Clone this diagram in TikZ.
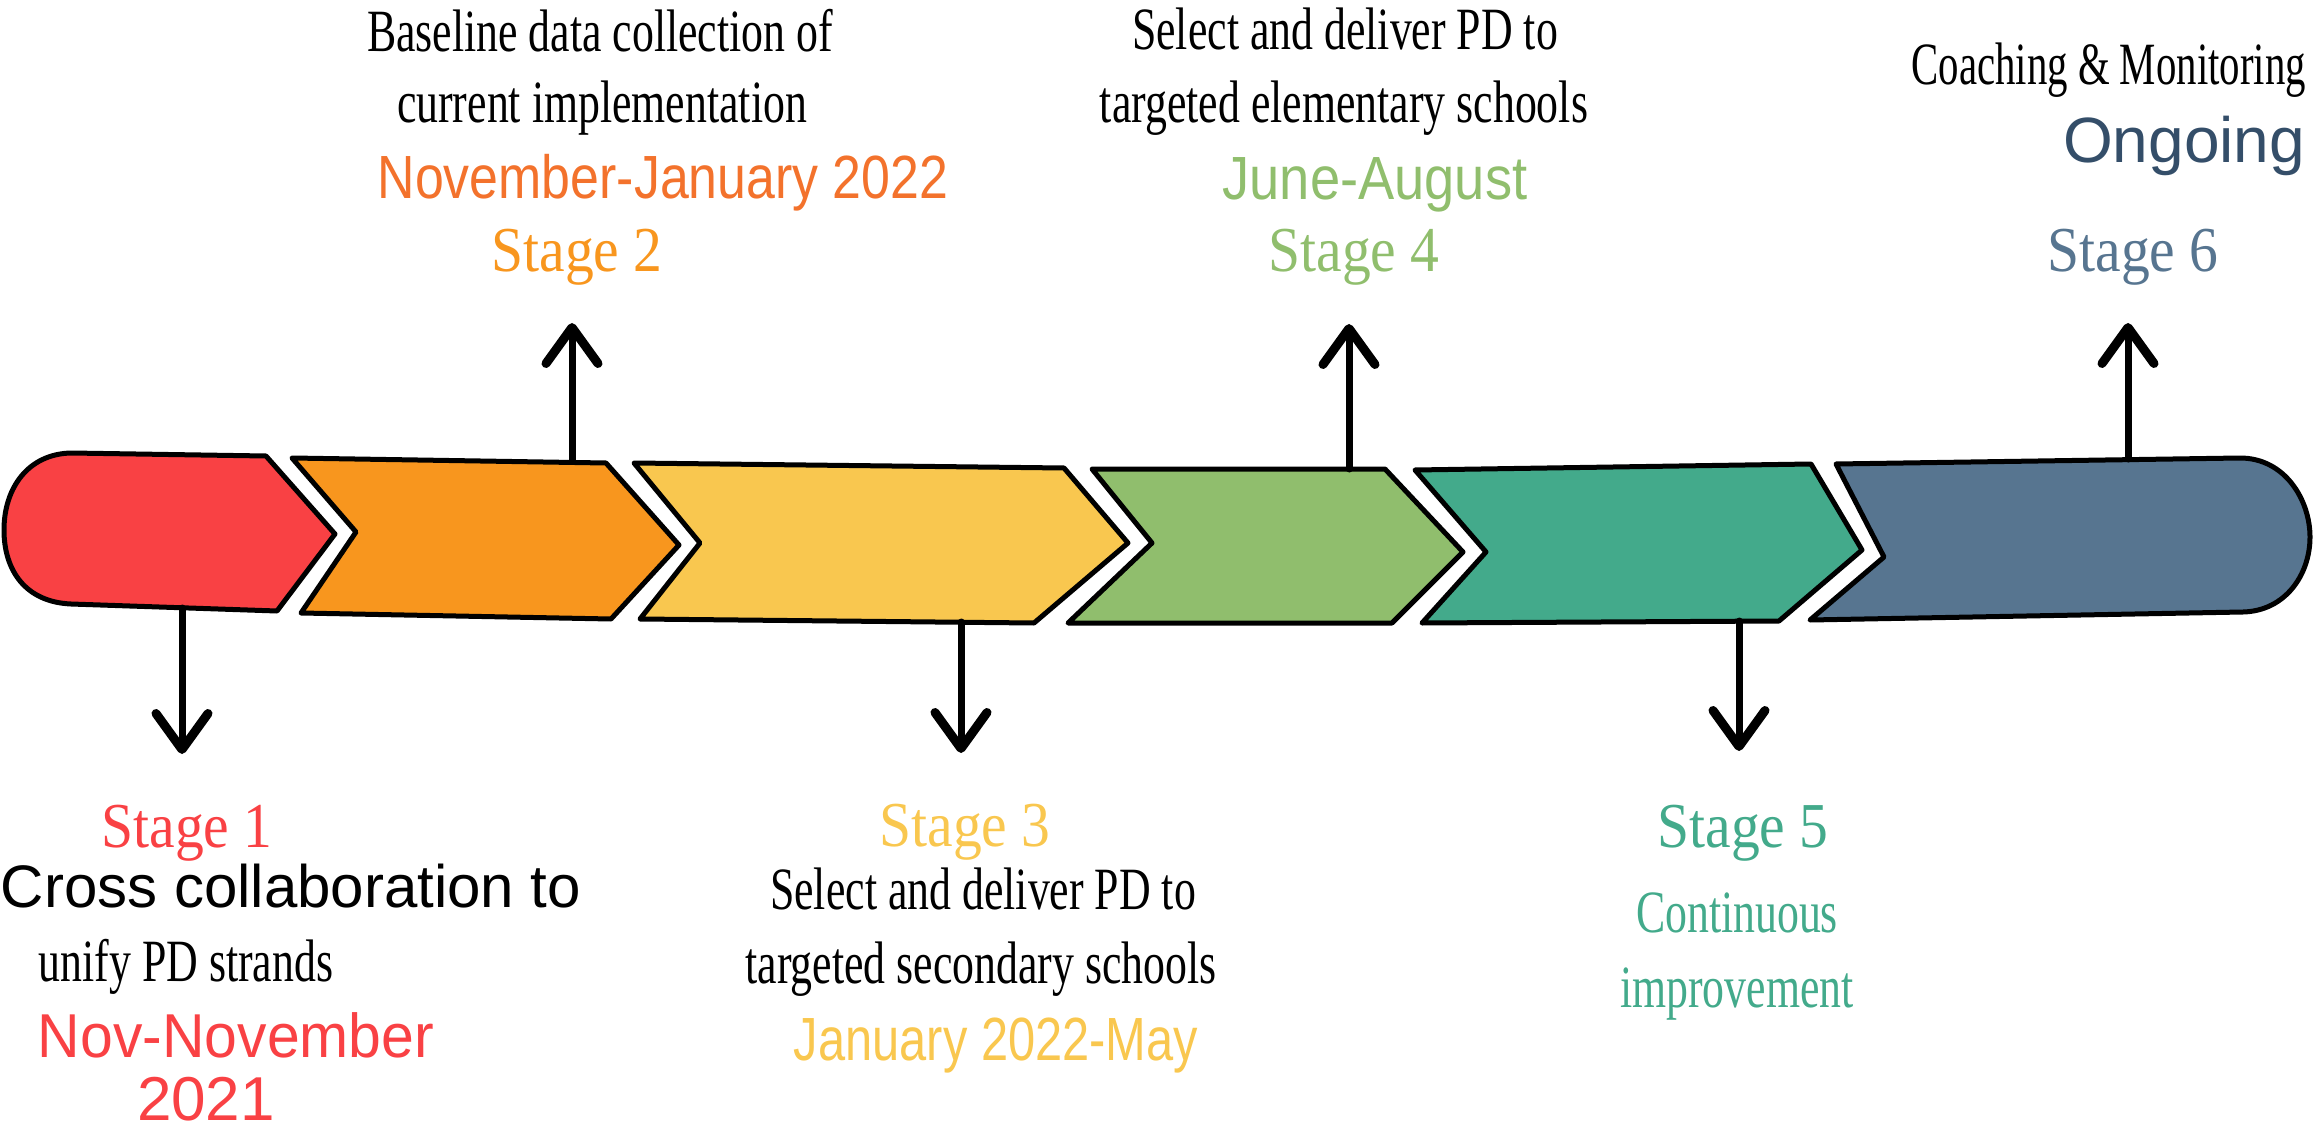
\documentclass[tikz,border=0pt]{standalone}
\usepackage{fontspec}
\setmainfont{Liberation Serif}
\newfontfamily\cserif[FakeStretch=0.73]{Liberation Serif}
\newfontfamily\cserifn[FakeStretch=0.68]{Liberation Serif}
\newfontfamily\stserif[FakeStretch=0.9]{Liberation Serif}
\newfontfamily\sansn{Liberation Sans}
\newfontfamily\sansa[FakeStretch=0.85]{Liberation Sans}
\newfontfamily\sansb[FakeStretch=0.89]{Liberation Sans}
\newfontfamily\sansc[FakeStretch=0.8]{Liberation Sans}
\newfontfamily\sansd[FakeStretch=0.95]{Liberation Sans}
\usetikzlibrary{arrows.meta}
\definecolor{cred}{HTML}{F94144}
\definecolor{corange}{HTML}{F8961E}
\definecolor{cdate}{HTML}{F3722C}
\definecolor{cyellow}{HTML}{F9C74F}
\definecolor{cgreen}{HTML}{90BE6D}
\definecolor{cteal}{HTML}{43AA8B}
\definecolor{cblue}{HTML}{577590}
\definecolor{cdark}{HTML}{344E69}
\tikzset{
  stagebox/.style={draw=black, line width=5pt, line join=round},
  stem/.style={line width=7pt, line cap=round, -{Straight Barb[length=36pt,width=52pt,line width=9pt,round]}},
  lbl/.style={inner sep=0pt, anchor=base},
  body/.style={lbl, font=\cserif\fontsize{60pt}{72pt}\selectfont},
  stagelbl/.style={lbl, font=\stserif\fontsize{64pt}{76pt}\selectfont},
}
\begin{document}
\begin{tikzpicture}[x=1pt,y=-1pt]
\useasboundingbox (0,0) rectangle (2315,1131);
% stage shapes
\path[stagebox, fill=cred] (71,453) -- (266,456) -- (335,534) -- (277,611) -- (71,604)
  .. controls (25,602) and (4,570) .. (4,530) .. controls (4,488) and (28,454) .. (71,453) -- cycle;
\path[stagebox, fill=corange] (292,458) -- (606,463) -- (679,545) -- (611,619) -- (301,613) -- (356,532) -- cycle;
\path[stagebox, fill=cyellow] (634,463) -- (1064,468) -- (1128,543) -- (1034,623) -- (640,619) -- (700,543) -- cycle;
\path[stagebox, fill=cgreen] (1092,469) -- (1385,469) -- (1463,552) -- (1392,623) -- (1068,623) -- (1152,543) -- cycle;
\path[stagebox, fill=cteal] (1415,470) -- (1811,464) -- (1862,550) -- (1779,621) -- (1422,623) -- (1486,552) -- cycle;
\path[stagebox, fill=cblue] (1836,464) -- (2240,458)
  .. controls (2285,458) and (2310,500) .. (2310,537) .. controls (2310,575) and (2285,611) .. (2243,612)
  -- (1810,620) -- (1884,557) -- cycle;
% connector end points
\coordinate (b1) at (182,608);  \coordinate (h1) at (182,754);
\coordinate (b2) at (572,461);  \coordinate (h2) at (572,323);
\coordinate (b3) at (961,622);  \coordinate (h3) at (961,753);
\coordinate (b4) at (1349,469); \coordinate (h4) at (1349,324);
\coordinate (b5) at (1739,621); \coordinate (h5) at (1739,751);
\coordinate (b6) at (2128,459); \coordinate (h6) at (2128,323);
\foreach \i in {1,...,6} {\draw[stem] (b\i) -- (h\i);}
% Stage 2 texts
\node[body] (t2a) at (600,52) {Baseline data collection of};
\node[body] (t2b) at (602,123) {current implementation};
\node[lbl, text=cdate, font=\sansa\fontsize{61pt}{72pt}\selectfont] (d2) at (663,199) {November-January 2022};
\node[stagelbl, text=corange] (s2) at (577,272) {Stage 2};
% Stage 4 texts
\node[body] (t4a) at (1345,50) {Select and deliver PD to};
\node[body] (t4b) at (1344,123) {targeted elementary schools};
\node[lbl, text=cgreen, font=\sansb\fontsize{61pt}{72pt}\selectfont] (d4) at (1375,200) {June-August};
\node[stagelbl, text=cgreen] (s4) at (1354,272) {Stage 4};
% Stage 6 texts
\node[lbl, anchor=base east, font=\cserifn\fontsize{60pt}{72pt}\selectfont] (t6a) at (2306,85) {Coaching \& Monitoring};
\node[lbl, text=cdark, font=\sansn\fontsize{64pt}{76pt}\selectfont] (d6) at (2184,163) {Ongoing};
\node[stagelbl, text=cblue] (s6) at (2133,272) {Stage 6};
% Stage 1 texts
\node[stagelbl, text=cred] (s1) at (187,847) {Stage 1};
\node[lbl, font=\sansn\fontsize{60pt}{72pt}\selectfont] (t1a) at (291,907) {Cross collaboration to};
\node[body] (t1b) at (186,981) {unify PD strands};
\node[lbl, text=cred, font=\sansd\fontsize{62pt}{72pt}\selectfont] (d1a) at (236,1057) {Nov-November};
\node[lbl, text=cred, font=\sansn\fontsize{62pt}{72pt}\selectfont] (d1b) at (206,1120) {2021};
% Stage 3 texts
\node[stagelbl, text=cyellow] (s3) at (965,846) {Stage 3};
\node[body] (t3a) at (983,909) {Select and deliver PD to};
\node[body] (t3b) at (981,983) {targeted secondary schools};
\node[lbl, text=cyellow, font=\sansc\fontsize{61pt}{72pt}\selectfont] (d3) at (996,1060) {January 2022-May};
% Stage 5 texts
\node[stagelbl, text=cteal] (s5) at (1743,847) {Stage 5};
\node[body, text=cteal] (t5a) at (1737,932) {Continuous};
\node[body, text=cteal] (t5b) at (1737,1007) {improvement};
\end{tikzpicture}
\end{document}
